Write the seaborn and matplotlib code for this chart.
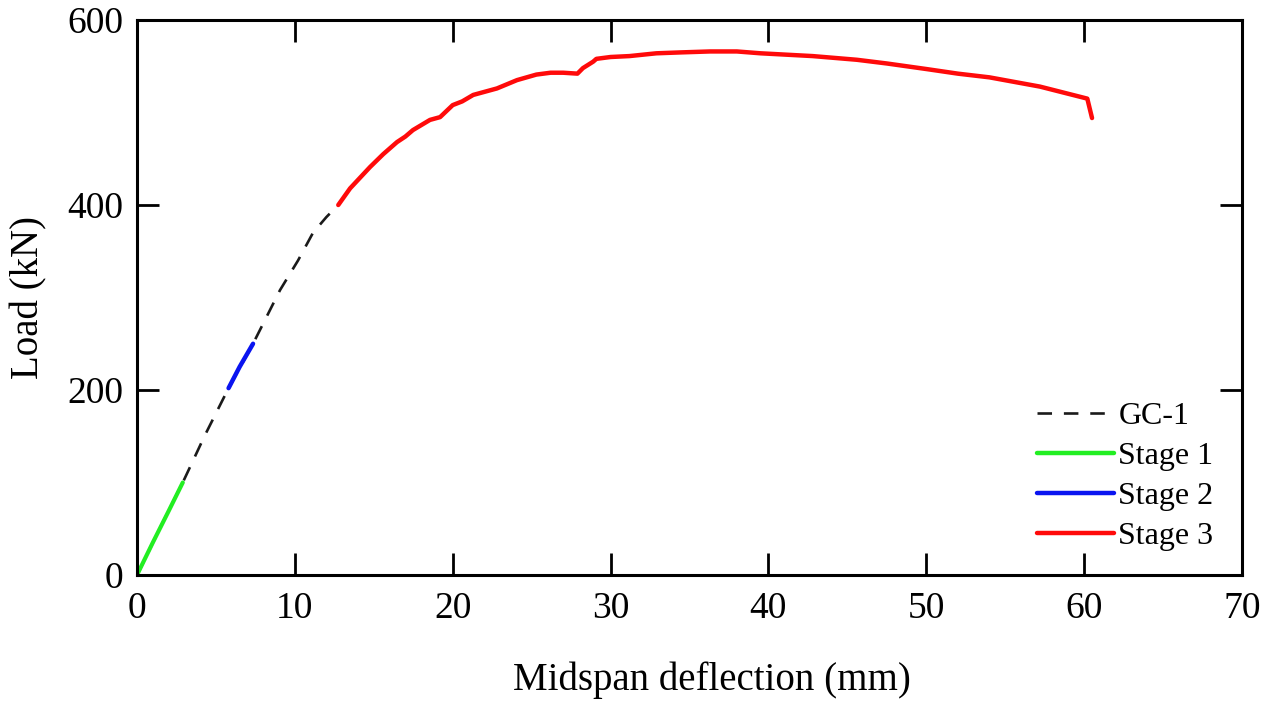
import matplotlib
matplotlib.use("Agg")
import matplotlib.pyplot as plt
import seaborn as sns
import pandas as pd

# ---- data ----
gc1_x = [0, 1.5, 2.9, 4.3, 5.8, 7.35, 9.06, 10.2, 11.15, 12.0, 12.75]
gc1_y = [0, 52, 100, 151, 202, 250, 308, 340, 370, 387, 400]

stage1_x = [0, 1.0, 2.0, 2.9]
stage1_y = [0, 35, 69, 100]

stage2_x = [5.8, 6.5, 7.35]
stage2_y = [202, 225, 250]

stage3_x = [12.75, 13.5, 14.76, 15.6, 16.47, 17.0, 17.48, 18.56, 19.2, 20.0, 20.6,
            21.3, 22.8, 24.07, 25.3, 26.2, 27.0, 27.9, 28.25, 28.9, 29.1, 30.0,
            31.2, 32.9, 34.5, 36.3, 38.0, 39.5, 42.8, 45.6, 47.5, 50.0, 52.0,
            54.0, 57.2, 60.2, 60.5]
stage3_y = [400, 418, 441, 455, 468, 474, 481, 492, 495, 508, 512,
            519, 526, 535, 541, 543, 543, 542, 548, 555, 558, 560,
            561, 564, 565, 566, 566, 564, 561, 557, 553, 547, 542,
            538, 528, 515, 494]

x_ticks = [0, 10, 20, 30, 40, 50, 60, 70]
y_ticks = [0, 200, 400, 600]

sns.set_theme(style="white")
plt.rcParams['font.family'] = ['Liberation Serif', 'DejaVu Serif']
plt.rcParams['text.color'] = 'black'
plt.rcParams['axes.labelcolor'] = 'black'

fig = plt.figure(figsize=(12.67, 7.04), dpi=100)
ax = fig.add_axes([137/1267, 1 - 575/704, (1242-137)/1267, (575-20)/704])

df_gc = pd.DataFrame({"x": gc1_x, "y": gc1_y})
df1 = pd.DataFrame({"x": stage1_x, "y": stage1_y})
df2 = pd.DataFrame({"x": stage2_x, "y": stage2_y})
df3 = pd.DataFrame({"x": stage3_x, "y": stage3_y})

sns.lineplot(data=df_gc, x="x", y="y", ax=ax, color="#1a1a1a", lw=1.9,
             linestyle=(0, (5.5, 4.5)), label="GC-1", sort=False)
sns.lineplot(data=df1, x="x", y="y", ax=ax, color="#22ee22", lw=3, label="Stage 1", sort=False)
sns.lineplot(data=df2, x="x", y="y", ax=ax, color="#0a14f0", lw=3.2, label="Stage 2", sort=False)
sns.lineplot(data=df3, x="x", y="y", ax=ax, color="#ff0a0a", lw=3.2, label="Stage 3", sort=False)

ax.set_xlim(0, 70)
ax.set_ylim(0, 600)
ax.set_xticks(x_ticks)
ax.set_yticks(y_ticks)
ax.set_xticklabels([str(t) for t in x_ticks])
ax.set_yticklabels([str(t) for t in y_ticks])

for s in ax.spines.values():
    s.set_visible(True)
    s.set_color("black")
    s.set_linewidth(2.2)

ax.tick_params(direction="in", length=16, width=2, top=True, right=True,
               bottom=True, left=True, labelsize=27, colors="black", pad=10)
ax.tick_params(axis="x", pad=12)

ax.set_xlabel("Midspan deflection (mm)", fontsize=28, labelpad=22, color="black")
ax.set_ylabel("Load (kN)", fontsize=28, labelpad=14, color="black")
ax.xaxis.set_label_coords((712 - 137) / 1105, -0.155)

leg = ax.legend(loc="lower right", frameon=False, fontsize=23, handlelength=2.4,
                handletextpad=0.15, labelspacing=0.33, borderaxespad=0.35,
                bbox_to_anchor=(0.996, 0.0))
for text in leg.get_texts():
    text.set_color("black")
for line in leg.get_lines():
    line.set_linewidth(3.2)
leg.get_lines()[0].set_linewidth(1.9)

fig.savefig("out.png", dpi=100)
